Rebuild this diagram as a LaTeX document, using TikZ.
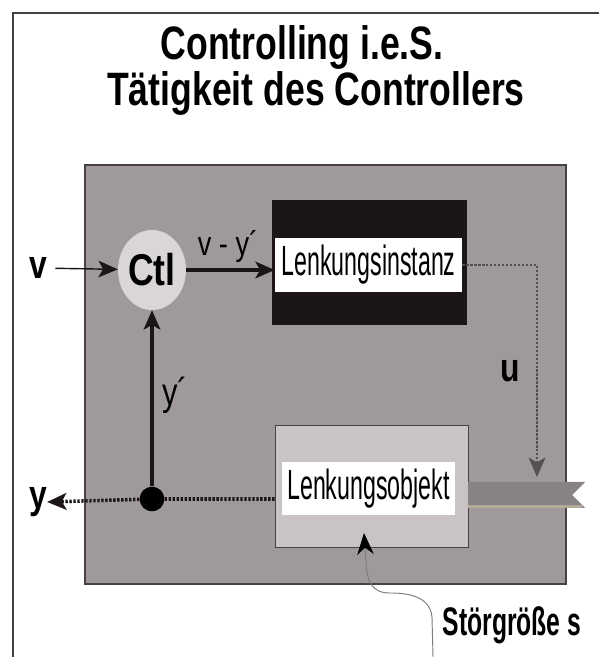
\documentclass[tikz,border=0pt]{standalone}
\usepackage{fontspec}
\setmainfont{Liberation Sans}
\newfontfamily\widesf[FakeStretch=0.8]{Liberation Sans}
\newfontfamily\titlesf[FakeStretch=0.76]{Liberation Sans}
\newfontfamily\midsf[FakeStretch=0.62]{Liberation Sans}
\newfontfamily\narrowsf[FakeStretch=0.55]{Liberation Sans}
\usetikzlibrary{arrows.meta,shapes.geometric}
\definecolor{framegray}{RGB}{70,66,68}
\definecolor{boxgray}{RGB}{160,153,155}
\definecolor{lightbox}{RGB}{201,195,197}
\definecolor{ctlgray}{RGB}{218,213,215}
\definecolor{flaggray}{RGB}{137,130,132}
\definecolor{flagedge}{RGB}{178,170,152}
\definecolor{nearblack}{RGB}{28,21,23}
\tikzset{
  boldlbl/.style={inner sep=0pt, font=\widesf\bfseries\fontsize{34}{34}\selectfont},
  thinlbl/.style={inner sep=0pt, font=\widesf\fontsize{33}{33}\selectfont},
  whitebox/.style={fill=white, inner sep=0pt, font=\narrowsf\fontsize{36}{36}\selectfont},
  dotline/.style={line width=3pt, dash pattern=on 2pt off 1.4pt},
}

\begin{document}
\begin{tikzpicture}[x=0.03cm,y=0.03cm,>={Stealth[length=0.58cm,width=0.5cm,inset=0.14cm]}]
\useasboundingbox (0,0) rectangle (599,657);

\draw[line width=1.4pt, framegray] (13,0) -- (13,644) -- (599,644);

\node[font=\titlesf\bfseries\fontsize{40}{40}\selectfont] (title1) at (302,609) {Controlling i.e.S.};
\node[font=\titlesf\bfseries\fontsize{40}{40}\selectfont] (title2) at (316,564) {Tätigkeit des Controllers};

\draw[line width=1.2pt, draw=framegray, fill=boxgray] (85,73) rectangle (566,492);

\node[fill=nearblack, minimum width=5.85cm, minimum height=3.75cm] (instbg) at (369.5,394.5) {};
\node[whitebox, minimum width=5.61cm, minimum height=1.62cm] (inst) at (368.5,392) {Lenkungsinstanz};

\node[fill=lightbox, draw=framegray, line width=0.8pt, minimum width=5.79cm, minimum height=3.66cm] (objbg) at (371.5,171) {};
\node[whitebox, minimum width=5.19cm, minimum height=1.59cm] (obj) at (368.5,168.5) {Lenkungsobjekt};

\fill[flaggray] (468,175) -- (585,175) -- (572,162) -- (585,149) -- (468,149) -- cycle;
\draw[flagedge, line width=2.5pt] (468,150.5) -- (582,150.5);
\coordinate (flag) at (537,180);

\node[ellipse, fill=ctlgray, inner sep=0pt, minimum width=2.04cm, minimum height=2.4cm,
      font=\widesf\bfseries\fontsize{38}{38}\selectfont] (ctl) at (152,387) {Ctl};
\node[circle, fill=black, inner sep=0pt, minimum size=0.74cm] (ydot) at (152,158) {};

\node[boldlbl] (vlbl) at (38,389) {v};
\node[boldlbl] (ylbl) at (38,155) {y};
\node[boldlbl] (ulbl) at (510,286) {u};
\node[thinlbl] (yslbl) at (175,262) {y´};
\node[inner sep=0pt, font=\widesf\fontsize{29}{29}\selectfont] (difflbl) at (228,410) {v - y´};
\node[inner sep=0pt, font=\midsf\bfseries\fontsize{34}{34}\selectfont] (stoer) at (512,32) {Störgröße s};

\draw[->, line width=1.2pt, nearblack, shorten <=0.25cm] (vlbl) -- (ctl);
\draw[->, line width=2.6pt, nearblack] (ctl) -- (ctl -| inst.west);
\draw[->, line width=2.6pt, nearblack] (ydot) -- (ctl);
\draw[->, dotline, line width=2pt, nearblack!75] (inst.east) -- (inst.east -| flag) -- (flag);
\draw[->, dotline, nearblack] (objbg.west |- ydot) -- (ydot) -- (ylbl.east);

\coordinate (stoerfoot) at (433,0);
\coordinate (stoerin) at (364,124);
\draw[-{Stealth[length=0.65cm,width=0.5cm,black]}, line width=0.8pt, framegray!70]
  (stoerfoot) -- (432,40) .. controls (430,62) and (405,64) .. (390,64)
  .. controls (372,64) and (367,75) .. (366,95) -- (stoerin);
\end{tikzpicture}
\end{document}
